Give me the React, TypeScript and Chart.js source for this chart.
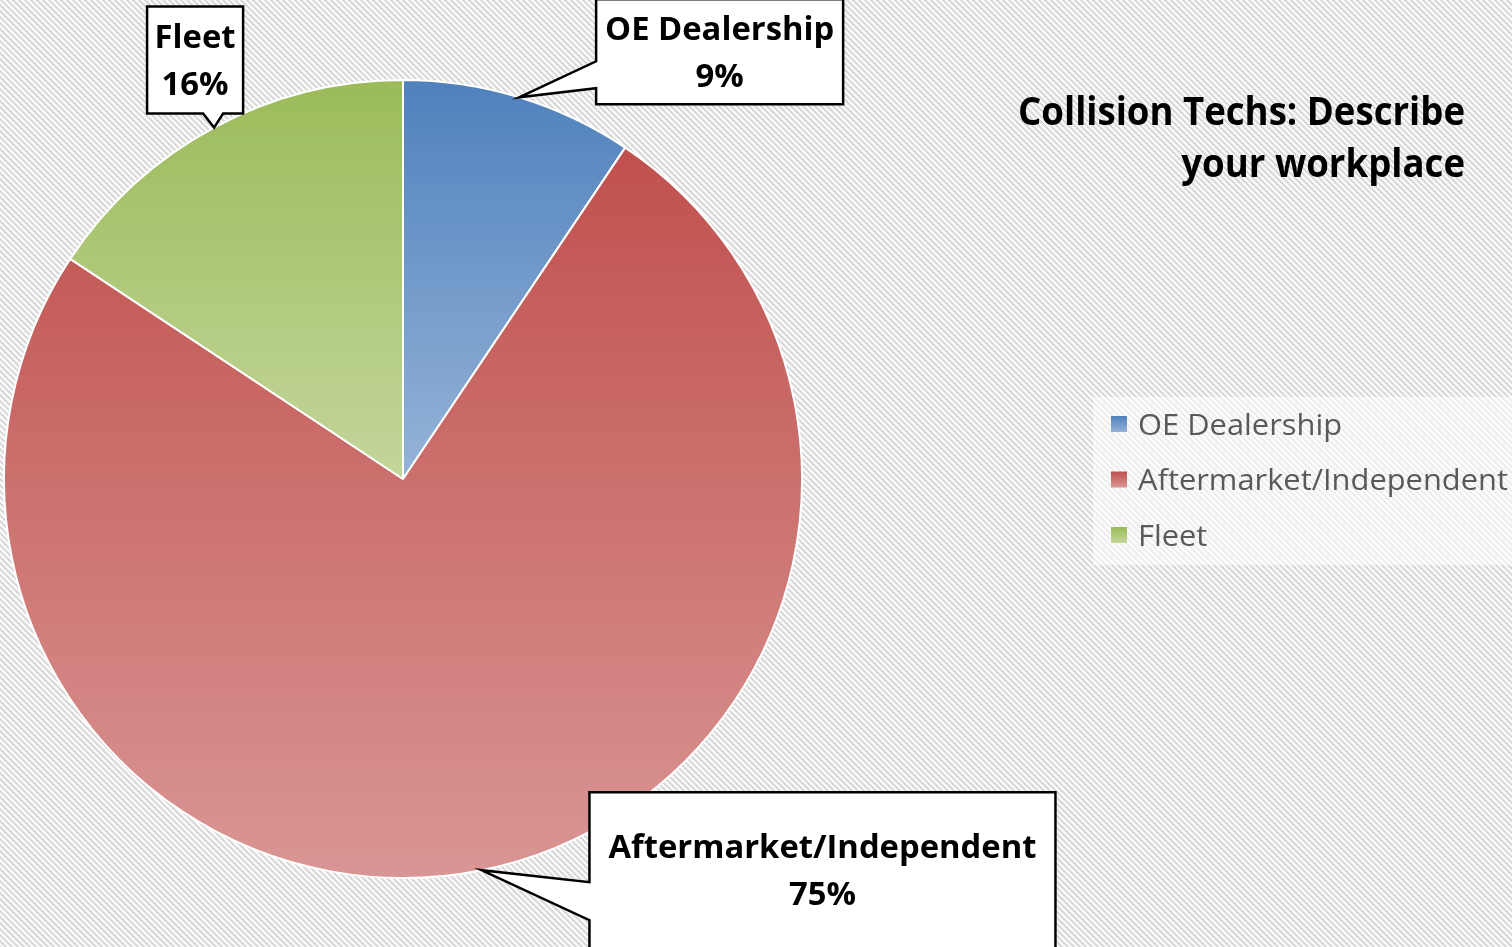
import React, { useEffect, useRef } from "react";
import { Chart, registerables } from "chart.js";

Chart.register(...registerables);

// ---------- data ----------
const TITLE_LINES = ["Collision Techs: Describe", "your workplace"];
const CATEGORIES = ["OE Dealership", "Aftermarket/Independent", "Fleet"];
const VALUES = [9.4, 74.9, 15.7];
const DARK_COLORS = ["#4f81bd", "#c0504d", "#9bbb59"];
const LIGHT_COLORS = ["#95b3d7", "#d99694", "#c3d69b"];

// ---------- layout / style ----------
const W = 1512;
const H = 947;
const FONT = '"Open Sans", "Liberation Sans", sans-serif';

// callout boxes, placed relative to the slice's outer-arc midpoint (the pointer tip)
const CALLOUTS = [
  { dx: 77, dy: -98, w: 247, h: 105, side: "left", b0: 62, b1: 89 },
  { dx: 108, dy: -78, w: 466, h: 156, side: "left", b0: 90, b1: 128 },
  { dx: -67, dy: -121, w: 96, h: 107, side: "bottom", b0: 56, b1: 76 },
];

const total = VALUES.reduce((a, b) => a + b, 0);
const pctText = (v: number) => Math.round((v / total) * 100) + "%";

function sliceAngles(i: number) {
  let start = -Math.PI / 2;
  for (let j = 0; j < i; j++) start += (VALUES[j] / total) * Math.PI * 2;
  const end = start + (VALUES[i] / total) * Math.PI * 2;
  return { start, end };
}

function makePattern(ctx: CanvasRenderingContext2D) {
  const n = 6;
  const off = document.createElement("canvas");
  off.width = n;
  off.height = n;
  const o = off.getContext("2d")!;
  o.fillStyle = "#fafafa";
  o.fillRect(0, 0, n, n);
  o.fillStyle = "#dadada";
  for (let y = 0; y < n; y++) {
    for (let x = 0; x < n; x++) {
      if ((((x - y) % n) + n) % n < 3) o.fillRect(x, y, 1, 1);
    }
  }
  return ctx.createPattern(off, "repeat")!;
}

function drawScaled(ctx: CanvasRenderingContext2D, text: string, x: number, y: number, sx: number) {
  ctx.save();
  ctx.translate(x, y);
  ctx.scale(sx, 1);
  ctx.fillText(text, 0, 0);
  ctx.restore();
}

const decorPlugin = {
  id: "decor",
  beforeDraw(chart: any) {
    const ctx: CanvasRenderingContext2D = chart.ctx;
    ctx.save();
    ctx.fillStyle = makePattern(ctx);
    ctx.fillRect(0, 0, chart.width, chart.height);
    // legend backdrop
    ctx.fillStyle = "rgba(255,255,255,0.55)";
    ctx.fillRect(1093, 397, chart.width - 1093, 168);
    ctx.restore();
  },
  afterDraw(chart: any) {
    const ctx: CanvasRenderingContext2D = chart.ctx;
    const meta = chart.getDatasetMeta(0);
    ctx.save();
    ctx.textBaseline = "alphabetic";

    // ---- title ----
    const titleSize = 39;
    ctx.font = `bold ${titleSize}px ${FONT}`;
    ctx.fillStyle = "#000000";
    ctx.textAlign = "right";
    const tsx = 447 / ctx.measureText(TITLE_LINES[0]).width;
    TITLE_LINES.forEach((line, k) => {
      drawScaled(ctx, line, 1465, 125 + k * 52, tsx);
    });

    // ---- legend ----
    const legSize = 30;
    ctx.font = `${legSize}px ${FONT}`;
    ctx.textAlign = "left";
    const lsx = 370 / ctx.measureText(CATEGORIES[1]).width;
    CATEGORIES.forEach((cat, i) => {
      const cy = 424 + i * 55.5;
      const g = ctx.createLinearGradient(0, cy - 8, 0, cy + 8);
      g.addColorStop(0, DARK_COLORS[i]);
      g.addColorStop(1, LIGHT_COLORS[i]);
      ctx.fillStyle = g;
      ctx.fillRect(1111, cy - 8, 16, 16);
      ctx.fillStyle = "#595959";
      drawScaled(ctx, cat, 1138, cy + (0.714 * legSize) / 2, lsx);
    });

    // ---- callouts ----
    const labSize = 32;
    ctx.font = `bold ${labSize}px ${FONT}`;
    const csx = 428 / ctx.measureText(CATEGORIES[1]).width;
    meta.data.forEach((arc: any, i: number) => {
      const p = arc.getProps(["x", "y", "startAngle", "endAngle", "outerRadius"], true);
      const mid = (p.startAngle + p.endAngle) / 2;
      const tx = p.x + Math.cos(mid) * p.outerRadius;
      const ty = p.y + Math.sin(mid) * p.outerRadius;
      const c = CALLOUTS[i];
      const L = tx + c.dx;
      const T = ty + c.dy;
      const R = L + c.w;
      const B = T + c.h;
      ctx.beginPath();
      if (c.side === "left") {
        ctx.moveTo(L, T);
        ctx.lineTo(R, T);
        ctx.lineTo(R, B);
        ctx.lineTo(L, B);
        ctx.lineTo(L, T + c.b1);
        ctx.lineTo(tx, ty);
        ctx.lineTo(L, T + c.b0);
      } else {
        ctx.moveTo(L, T);
        ctx.lineTo(R, T);
        ctx.lineTo(R, B);
        ctx.lineTo(L + c.b1, B);
        ctx.lineTo(tx, ty);
        ctx.lineTo(L + c.b0, B);
        ctx.lineTo(L, B);
      }
      ctx.closePath();
      ctx.fillStyle = "#ffffff";
      ctx.fill();
      ctx.lineWidth = 2.5;
      ctx.lineJoin = "miter";
      ctx.strokeStyle = "#000000";
      ctx.stroke();

      ctx.fillStyle = "#000000";
      ctx.textAlign = "center";
      const cx = (L + R) / 2;
      const cyBox = (T + B) / 2;
      const capHalf = (0.714 * labSize) / 2;
      const lines = [CATEGORIES[i], pctText(VALUES[i])];
      lines.forEach((line, k) => {
        const y = cyBox + (k === 0 ? -23.5 : 23.5) + capHalf;
        drawScaled(ctx, line, cx, y, csx);
      });
    });

    ctx.restore();
  },
};

export default function App() {
  const ref = useRef<HTMLCanvasElement | null>(null);

  useEffect(() => {
    document.body.style.margin = "0";
    const canvas = ref.current!;
    const chart = new Chart(canvas, {
      type: "pie",
      data: {
        labels: CATEGORIES,
        datasets: [
          {
            data: VALUES,
            backgroundColor: (ctx: any) => {
              const i = ctx.dataIndex ?? 0;
              const chartRef = ctx.chart;
              const area = chartRef.chartArea;
              if (!area) return DARK_COLORS[i];
              const cx = (area.left + area.right) / 2;
              const cy = (area.top + area.bottom) / 2;
              const r = Math.min(area.width, area.height) / 2;
              const { start, end } = sliceAngles(i);
              const ys = [cy, cy + r * Math.sin(start), cy + r * Math.sin(end)];
              [-Math.PI / 2, Math.PI / 2, (3 * Math.PI) / 2].forEach((a) => {
                if (a >= start && a <= end) ys.push(cy + r * Math.sin(a));
              });
              const g = chartRef.ctx.createLinearGradient(0, Math.min(...ys), 0, Math.max(...ys));
              g.addColorStop(0, DARK_COLORS[i]);
              g.addColorStop(1, LIGHT_COLORS[i]);
              return g;
            },
            borderColor: "#ffffff",
            borderWidth: 2,
          },
        ],
      },
      options: {
        responsive: false,
        animation: false,
        devicePixelRatio: 1,
        layout: { padding: { left: 3, top: 79, right: 709, bottom: 68 } },
        plugins: {
          legend: { display: false },
          title: { display: false },
          tooltip: { enabled: false },
        },
        events: [],
      },
      plugins: [decorPlugin],
    });
    return () => chart.destroy();
  }, []);

  return (
    <canvas
      ref={ref}
      width={W}
      height={H}
      style={{ display: "block", width: W, height: H }}
    />
  );
}
